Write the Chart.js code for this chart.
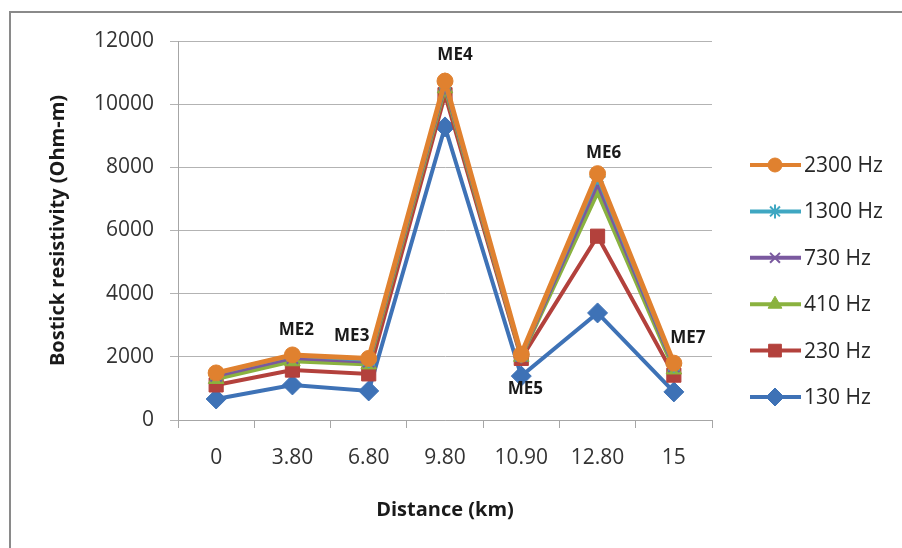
<!DOCTYPE html>
<html lang="en">
  <head>
    <meta charset="utf-8">
    <title>Bostick resistivity</title>
    <script src="https://cdn.jsdelivr.net/npm/chart.js@4.4.1/dist/chart.umd.min.js"></script>
    <style>
      body { margin: 0; background: #fff; }
      canvas { display: block; }
    </style>
  </head>
  <body>
    <canvas id="myChart" width="902" height="548"></canvas>
    <script>
      // distance along the profile (km)
      var distances = ['0', '3.80', '6.80', '9.80', '10.90', '12.80', '15'];
      // station names written next to the 2300 Hz curve
      var stations = ['', 'ME2', 'ME3', 'ME4', 'ME5', 'ME6', 'ME7'];

      // Bostick resistivity (Ohm-m) per frequency
      var hz2300 = [1490, 2060, 1950, 10730, 2080, 7800, 1800];
      var hz1300 = [1480, 2050, 1900, 10680, 2050, 7700, 1750];
      var hz730  = [1400, 1960, 1850, 10600, 2030, 7480, 1700];
      var hz410  = [1300, 1860, 1760, 10500, 2000, 7200, 1600];
      var hz230  = [1110, 1580, 1460, 10300, 1950, 5820, 1420];
      var hz130  = [665, 1110, 920, 9280, 1390, 3390, 890];

      // label nudges relative to the 2300 Hz point, in px
      var labelShift = [[0, 0], [4, -25], [-17, -22], [10, -26], [4, 35], [6, -20], [14, -25]];

      var FONT = "'Open Sans', 'DejaVu Sans', sans-serif";

      function series(label, data, color, style, radius, width) {
        return {
          label: label,
          data: data,
          borderColor: color,
          backgroundColor: color,
          borderWidth: width,
          pointStyle: style,
          pointRadius: radius,
          pointHoverRadius: radius,
          pointBorderColor: color,
          pointBackgroundColor: color,
          pointBorderWidth: style === 'star' || style === 'crossRot' ? 2 : 1,
          tension: 0
        };
      }

      // frame, station names and legend
      var decorations = {
        id: 'decorations',
        beforeDraw: function (chart) {
          var ctx = chart.ctx;
          ctx.save();
          ctx.strokeStyle = '#8a8a8a';
          ctx.lineWidth = 2;
          ctx.beginPath();
          ctx.moveTo(10, 548);
          ctx.lineTo(10, 12);
          ctx.lineTo(902, 12);
          ctx.stroke();
          ctx.restore();
        },
        afterDatasetsDraw: function (chart) {
          var ctx = chart.ctx;
          var pts = chart.getDatasetMeta(0).data;
          ctx.save();
          ctx.font = 'bold 17px ' + FONT;
          ctx.fillStyle = '#1a1a1a';
          ctx.textAlign = 'center';
          ctx.textBaseline = 'middle';
          for (var i = 0; i < stations.length; i++) {
            if (!stations[i]) continue;
            ctx.fillText(stations[i], pts[i].x + labelShift[i][0], pts[i].y + labelShift[i][1]);
          }
          ctx.restore();
        },
        afterDraw: function (chart) {
          var ctx = chart.ctx;
          var sets = chart.data.datasets;
          ctx.save();
          for (var i = 0; i < sets.length; i++) {
            var ds = sets[i];
            var y = 165 + i * 46.4;
            ctx.strokeStyle = ds.borderColor;
            ctx.lineWidth = 4;
            ctx.beginPath();
            ctx.moveTo(750, y);
            ctx.lineTo(801, y);
            ctx.stroke();
            ctx.fillStyle = ds.pointBackgroundColor;
            ctx.lineWidth = ds.pointBorderWidth;
            Chart.helpers.drawPoint(ctx, {
              pointStyle: ds.pointStyle,
              radius: ds.pointRadius - 1,
              rotation: 0,
              borderWidth: ds.pointBorderWidth
            }, 775, y);
            ctx.fillStyle = '#262626';
            ctx.font = '21px ' + FONT;
            ctx.textAlign = 'left';
            ctx.textBaseline = 'middle';
            ctx.fillText(ds.label, 804, y + 1);
          }
          ctx.restore();
        }
      };

      new Chart(document.getElementById('myChart'), {
        type: 'line',
        data: {
          labels: distances,
          datasets: [
            series('2300 Hz', hz2300, '#e0812f', 'circle', 8, 5),
            series('1300 Hz', hz1300, '#3fa7c2', 'star', 8, 4),
            series('730 Hz', hz730, '#7a599f', 'crossRot', 8, 4),
            series('410 Hz', hz410, '#8ab23f', 'triangle', 9, 4),
            series('230 Hz', hz230, '#b3413c', 'rect', 10, 4),
            series('130 Hz', hz130, '#3e72b6', 'rectRot', 10, 4)
          ]
        },
        options: {
          responsive: false,
          animation: false,
          events: [],
          layout: { padding: { left: 9, right: 190, top: 41, bottom: 0 } },
          plugins: {
            legend: { display: false },
            tooltip: { enabled: false }
          },
          scales: {
            x: {
              offset: true,
              afterFit: function (s) { s.height = 128; },
              grid: {
                offset: true,
                drawOnChartArea: false,
                drawTicks: true,
                tickLength: 8,
                color: '#a6a6a6'
              },
              border: { display: true, color: '#a6a6a6' },
              ticks: {
                color: '#333',
                padding: 17,
                font: { family: FONT, size: 21 }
              },
              title: {
                display: true,
                text: 'Distance (km)',
                color: '#1a1a1a',
                font: { family: FONT, size: 20, weight: 'bold' },
                padding: { top: 0, bottom: 26 }
              }
            },
            y: {
              min: 0,
              max: 12000,
              afterFit: function (s) { s.width = 169; },
              grid: {
                color: '#b3b3b3',
                tickLength: 8
              },
              border: { display: true, color: '#a6a6a6' },
              ticks: {
                stepSize: 2000,
                color: '#333',
                padding: 16,
                font: { family: FONT, size: 21 },
                callback: function (v) { return String(v); }
              },
              title: {
                display: true,
                text: 'Bostick resistivity (Ohm-m)',
                color: '#1a1a1a',
                font: { family: FONT, size: 20, weight: 'bold' },
                padding: { top: 37, bottom: 0 }
              }
            }
          }
        },
        plugins: [decorations]
      });
    </script>
  </body>
</html>
